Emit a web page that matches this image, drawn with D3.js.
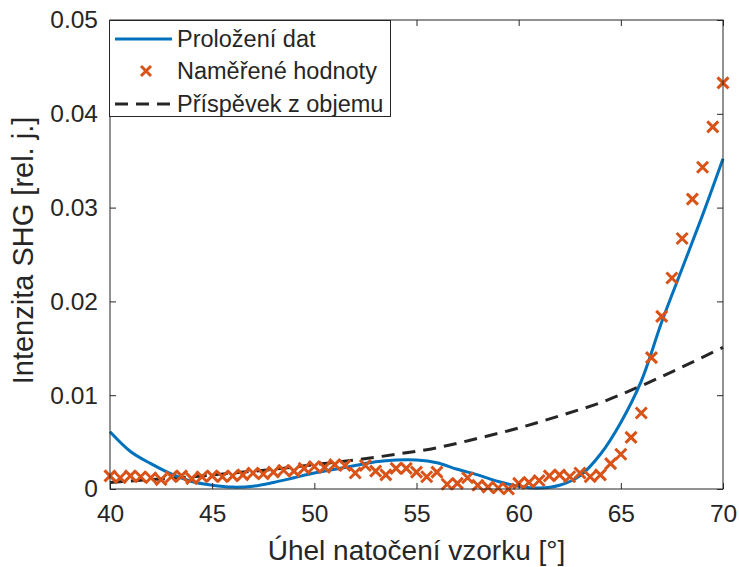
<!DOCTYPE html>
<html><head><meta charset="utf-8">
<script src="https://cdn.jsdelivr.net/npm/d3@7"></script>
<style>body{margin:0;background:#fff}text{font-family:"Liberation Sans",Arial,sans-serif;fill:#262626}</style>
</head><body>
<svg id="c" width="739" height="567"></svg>
<script>
// ---- data ----
const xTicks = [40, 45, 50, 55, 60, 65, 70];
const yTicks = [0, 0.01, 0.02, 0.03, 0.04, 0.05];
const yTickLabels = ["0", "0.01", "0.02", "0.03", "0.04", "0.05"];
const seriesNames = ["Proložení dat", "Naměřené hodnoty", "Příspěvek z objemu"];

const measAngle = [40,40.5,41,41.5,42,42.5,43,43.5,44,44.5,45,45.5,46,46.5,47,47.5,48,48.5,49,49.5,
  50,50.5,51,51.5,52,52.5,53,53.5,54,54.5,55,55.5,56,56.5,57,57.5,58,58.5,59,59.5,
  60,60.5,61,61.5,62,62.5,63,63.5,64,64.5,65,65.5,66,66.5,67,67.5,68,68.5,69,69.5,70];
const measValue = [0.0014,0.0012,0.0014,0.0013,0.0012,0.0010,0.0013,0.0014,0.0011,0.0013,
  0.0014,0.0013,0.0014,0.0015,0.0017,0.0016,0.0018,0.0020,0.0019,0.0022,
  0.0024,0.0023,0.0026,0.0025,0.0017,0.0025,0.0019,0.0015,0.0022,0.0022,
  0.0018,0.0013,0.0018,0.0005,0.0006,0.0012,0.0004,0.0002,0.0001,0.0000,
  0.0006,0.0007,0.0009,0.0014,0.0015,0.0013,0.0017,0.0013,0.0015,0.0027,
  0.0037,0.0055,0.0081,0.0140,0.0184,0.0225,0.0267,0.0309,0.0343,0.0386,0.0433];

const fitAngle = [40,41,42,43,44,45,46,47,48,49,50,51,52,53,54,55,56,57,58,59,60,61,62,63,64,65,66,67,68,69,70];
const fitValue = [0.0061,0.0040,0.0027,0.0016,0.0008,0.0004,0.0002,0.0003,0.0007,0.0012,
  0.0017,0.0021,0.0025,0.0029,0.0031,0.0031,0.0028,0.0021,0.0015,0.0008,
  0.0003,0.0001,0.0004,0.0014,0.0037,0.0071,0.0115,0.0178,0.0235,0.0292,0.0352];

const bulkAngle = [40,42,44,46,48,50,52,54,56,58,60,62,64,66,68,70];
const bulkValue = [0.0007,0.0010,0.0013,0.0017,0.0021,0.0026,0.0031,0.0037,0.0044,0.0054,
  0.0065,0.0078,0.0092,0.0110,0.0130,0.0151];

// ---- chart ----
const svg = d3.select("#c");
const L = 110, R = 723, T = 20, B = 489;
const x = d3.scaleLinear().domain([40, 70]).range([L, R]);
const y = d3.scaleLinear().domain([0, 0.05]).range([B, T]);
const blue = "#0072BD", orange = "#D95319", dark = "#262626";

const gPlot = svg.append("g");

// lines
const fitLine = d3.line().x((d, i) => x(fitAngle[i])).y(d => y(d)).curve(d3.curveCatmullRom);
const bulkLine = d3.line().x((d, i) => x(bulkAngle[i])).y(d => y(d)).curve(d3.curveCatmullRom);

gPlot.append("path").attr("d", bulkLine(bulkValue)).attr("fill", "none")
  .attr("stroke", dark).attr("stroke-width", 3).attr("stroke-dasharray", "13,8");
gPlot.append("path").attr("d", fitLine(fitValue)).attr("fill", "none")
  .attr("stroke", blue).attr("stroke-width", 3);

// markers
const ms = 5.5;
const crossPath = `M${-ms},${-ms}L${ms},${ms}M${-ms},${ms}L${ms},${-ms}`;
gPlot.selectAll(".m").data(measValue).join("path")
  .attr("transform", (d, i) => `translate(${x(measAngle[i])},${y(d)})`)
  .attr("d", crossPath).attr("stroke", orange).attr("stroke-width", 3).attr("fill", "none");

// axes
const tl = 6;
const xAxisB = d3.axisBottom(x).tickValues(xTicks).tickSize(-tl).tickPadding(16).tickFormat(d3.format("d"));
const xAxisT = d3.axisTop(x).tickValues(xTicks).tickSize(-tl).tickFormat("");
const yAxisL = d3.axisLeft(y).tickValues(yTicks).tickSize(-tl).tickPadding(12).tickFormat((d, i) => yTickLabels[i]);
const yAxisR = d3.axisRight(y).tickValues(yTicks).tickSize(-tl).tickFormat("");

function style(g) {
  g.select(".domain").remove();
  g.selectAll(".tick line").attr("stroke", dark).attr("stroke-width", 1);
  g.selectAll(".tick text").attr("fill", dark).style("font-size", "24.5px");
}
svg.append("g").attr("transform", `translate(0,${B})`).call(xAxisB).call(style);
svg.append("g").attr("transform", `translate(0,${T})`).call(xAxisT).call(style);
svg.append("g").attr("transform", `translate(${L},0)`).call(yAxisL).call(style);
svg.append("g").attr("transform", `translate(${R},0)`).call(yAxisR).call(style);

svg.append("rect").attr("x", L).attr("y", T).attr("width", R - L).attr("height", B - T)
  .attr("fill", "none").attr("stroke", dark).attr("stroke-width", 1);

// axis labels
svg.append("text").attr("x", (L + R) / 2).attr("y", 560).attr("text-anchor", "middle")
  .style("font-size", "28px").text("Úhel natočení vzorku [°]");
svg.append("text").attr("transform", `translate(33,${(T + B) / 2 - 4}) rotate(-90)`)
  .attr("text-anchor", "middle").style("font-size", "29px").text("Intenzita SHG [rel. j.]");

// legend
const lg = svg.append("g");
lg.append("rect").attr("x", 109.5).attr("y", 20.5).attr("width", 281).attr("height", 96)
  .attr("fill", "#fff").attr("stroke", dark).attr("stroke-width", 1);
const rows = [39, 71, 104];
lg.append("line").attr("x1", 115).attr("x2", 172).attr("y1", rows[0]).attr("y2", rows[0])
  .attr("stroke", blue).attr("stroke-width", 3);
lg.append("path").attr("transform", `translate(146,${rows[1]})`).attr("d",
  `M-5,-5L5,5M-5,5L5,-5`).attr("stroke", orange).attr("stroke-width", 3);
lg.append("line").attr("x1", 115).attr("x2", 172).attr("y1", rows[2]).attr("y2", rows[2])
  .attr("stroke", dark).attr("stroke-width", 3).attr("stroke-dasharray", "13,8");
seriesNames.forEach((n, i) => {
  lg.append("text").attr("x", 177).attr("y", rows[i] + 8).style("font-size", "23.5px").text(n);
});
</script>
</body></html>
